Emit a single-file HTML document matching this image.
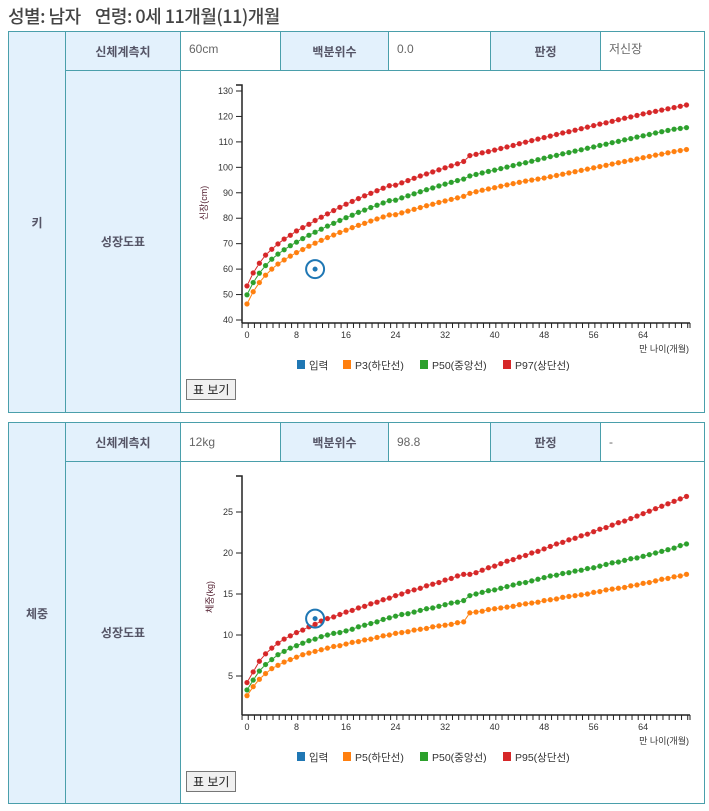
<!DOCTYPE html>
<html><head><meta charset="utf-8">
<style>
body{margin:0;width:709px;height:811px;background:#fff;font-family:"Liberation Sans","Noto Sans CJK KR",sans-serif;position:relative;overflow:hidden}
.t{position:absolute;font-size:18px;color:#444;left:8px;top:3px;letter-spacing:-0.5px;font-family:"Noto Sans CJK KR",sans-serif;font-weight:500}
.c{position:absolute;box-sizing:border-box;border:1px solid #4a9fab;font-size:12px;color:#555;display:flex;align-items:center}
.h{background:#e3f1fc;justify-content:center;font-weight:bold;color:#556}
.v{background:#fff;padding-left:8px;color:#666}
.btn{position:absolute;font-size:12px;border:1px solid #777;background:#f0f0f0;padding:1px 6px;font-family:"Liberation Sans","Noto Sans CJK KR",sans-serif;color:#222}
svg{position:absolute;left:0;top:0}
svg text{font-family:"Liberation Sans","Noto Sans CJK KR",sans-serif}
</style></head><body>
<div class="t">성별: 남자 &nbsp;&nbsp;&nbsp;연령: 0세 11개월(11)개월</div>

<div class="c h" style="left:8px;top:31px;width:58px;height:382px">키</div>
<div class="c h" style="left:65px;top:31px;width:116px;height:40px">신체계측치</div>
<div class="c v" style="left:180px;top:31px;width:101px;height:40px;align-items:flex-start;padding-top:10px">60cm</div>
<div class="c h" style="left:280px;top:31px;width:109px;height:40px">백분위수</div>
<div class="c v" style="left:388px;top:31px;width:103px;height:40px;align-items:flex-start;padding-top:10px">0.0</div>
<div class="c h" style="left:490px;top:31px;width:111px;height:40px">판정</div>
<div class="c v" style="left:600px;top:31px;width:105px;height:40px;align-items:flex-start;padding-top:8px">저신장</div>
<div class="c h" style="left:65px;top:70px;width:116px;height:343px">성장도표</div>
<div class="c" style="left:180px;top:70px;width:525px;height:343px"></div>

<div class="c h" style="left:8px;top:422px;width:58px;height:382px">체중</div>
<div class="c h" style="left:65px;top:422px;width:116px;height:40px">신체계측치</div>
<div class="c v" style="left:180px;top:422px;width:101px;height:40px">12kg</div>
<div class="c h" style="left:280px;top:422px;width:109px;height:40px">백분위수</div>
<div class="c v" style="left:388px;top:422px;width:103px;height:40px">98.8</div>
<div class="c h" style="left:490px;top:422px;width:111px;height:40px">판정</div>
<div class="c v" style="left:600px;top:422px;width:105px;height:40px">-</div>
<div class="c h" style="left:65px;top:461px;width:116px;height:343px">성장도표</div>
<div class="c" style="left:180px;top:461px;width:525px;height:343px"></div>

<button class="btn" style="left:186px;top:379px">표 보기</button>
<button class="btn" style="left:186px;top:771px">표 보기</button>

<svg id="svg" width="709" height="811"></svg>
<script>
const xTicks=[0,8,16,24,32,40,48,56,64];
const hTicks=[40,50,60,70,80,90,100,110,120,130];
const wTicks=[5,10,15,20,25];
const hP3=[46.3,51.1,54.7,57.6,60.0,62.0,63.6,65.1,66.5,67.7,69.0,70.2,71.3,72.4,73.4,74.4,75.3,76.3,77.2,78.0,78.9,79.7,80.5,81.3,81.4,82.1,82.8,83.5,84.2,84.9,85.5,86.2,86.8,87.4,88.0,88.6,89.8,90.4,91.0,91.5,92.0,92.6,93.1,93.6,94.1,94.6,95.0,95.4,95.8,96.3,96.8,97.3,97.8,98.3,98.8,99.3,99.8,100.3,100.8,101.3,101.8,102.3,102.8,103.3,103.8,104.3,104.8,105.2,105.7,106.2,106.6,107.0];
const hP50=[49.9,54.7,58.4,61.4,63.9,65.9,67.6,69.2,70.6,72.0,73.3,74.5,75.7,76.9,78.0,79.1,80.2,81.2,82.3,83.2,84.2,85.1,86.0,86.9,87.1,88.0,88.8,89.6,90.4,91.2,91.9,92.7,93.4,94.1,94.8,95.4,96.6,97.2,97.8,98.4,98.9,99.5,100.1,100.7,101.3,101.8,102.4,103.0,103.6,104.2,104.7,105.3,105.8,106.4,106.9,107.5,108.0,108.6,109.1,109.7,110.2,110.8,111.3,111.9,112.4,112.9,113.5,114.0,114.5,115.0,115.3,115.6];
const hP97=[53.4,58.5,62.3,65.5,67.8,69.9,71.8,73.3,75.0,76.3,77.6,79.1,80.4,81.7,83.0,84.3,85.5,86.6,87.7,88.8,89.8,90.8,91.8,92.8,93.0,93.9,94.8,95.7,96.6,97.4,98.2,99.0,99.8,100.6,101.4,102.3,104.6,105.1,105.7,106.2,106.8,107.4,108.0,108.6,109.3,109.9,110.5,111.1,111.7,112.3,112.9,113.5,114.0,114.6,115.2,115.8,116.4,117.0,117.5,118.1,118.7,119.3,119.8,120.4,121.0,121.5,122.0,122.5,123.0,123.5,124.0,124.5];
const wP5=[2.6,3.7,4.6,5.3,5.9,6.3,6.7,7.0,7.3,7.6,7.8,8.0,8.2,8.4,8.6,8.7,8.9,9.1,9.2,9.4,9.5,9.7,9.9,10.0,10.2,10.3,10.4,10.6,10.7,10.8,11.0,11.1,11.2,11.3,11.5,11.6,12.7,12.8,12.9,13.1,13.2,13.3,13.4,13.5,13.7,13.8,13.9,14.0,14.2,14.3,14.4,14.6,14.7,14.8,14.9,15.0,15.2,15.3,15.5,15.6,15.7,15.8,16.0,16.1,16.3,16.4,16.6,16.8,16.9,17.1,17.2,17.4];
const wP50=[3.3,4.5,5.6,6.4,7.0,7.6,8.0,8.4,8.7,9.0,9.3,9.5,9.8,10.0,10.2,10.3,10.5,10.7,11.0,11.2,11.4,11.6,11.9,12.1,12.3,12.5,12.6,12.8,13.0,13.2,13.3,13.5,13.7,13.9,14.0,14.2,14.8,15.0,15.2,15.4,15.5,15.7,15.9,16.1,16.3,16.4,16.6,16.8,17.0,17.2,17.3,17.5,17.6,17.8,17.9,18.1,18.2,18.4,18.6,18.8,18.9,19.1,19.3,19.4,19.6,19.8,20.0,20.2,20.4,20.6,20.9,21.1];
const wP95=[4.2,5.5,6.8,7.7,8.4,9.0,9.5,9.9,10.3,10.6,11.0,11.3,11.7,12.0,12.2,12.5,12.8,13.0,13.3,13.5,13.8,14.0,14.3,14.5,14.8,15.0,15.3,15.5,15.7,16.0,16.2,16.4,16.7,16.9,17.2,17.4,17.4,17.6,17.9,18.2,18.4,18.7,19.0,19.2,19.5,19.7,20.0,20.2,20.5,20.8,21.1,21.3,21.6,21.8,22.1,22.3,22.6,22.9,23.1,23.4,23.7,23.9,24.2,24.5,24.8,25.1,25.4,25.7,26.0,26.3,26.6,26.9];
const hInput=[11,60];
const wInput=[11,12];
const hLegend=["입력","P3(하단선)","P50(중앙선)","P97(상단선)"];
const wLegend=["입력","P5(하단선)","P50(중앙선)","P95(상단선)"];
const colors=["#1f77b4","#ff7f0e","#2ca02c","#d62728"];
const svg=document.getElementById('svg');
const NS='http://www.w3.org/2000/svg';
function mk(tag,attrs,parent){const e=document.createElementNS(NS,tag);for(const k in attrs)e.setAttribute(k,attrs[k]);(parent||svg).appendChild(e);return e;}
function chart(o){
  const g=mk('g',{});
  
  
  const x=m=>247+m*6.19;
  const y=v=>o.y0+(o.v0-v)*o.k;
  const ya=mk('path',{d:`M236,${o.top}H242V${o.bot}`,stroke:'#222',fill:'none','stroke-width':1.5},g);
  
  const xa=mk('path',{d:`M242,${o.bot}H690`,stroke:'#222',fill:'none','stroke-width':1.5},g);
  
  for(let m=-0.8;m<=71.5;m+=1){mk('line',{x1:x(m),x2:x(m),y1:o.bot,y2:o.bot+5,stroke:'#222','stroke-width':1},g);}
  mk('line',{x1:690,x2:690,y1:o.bot,y2:o.bot+5,stroke:'#222'},g);
  xTicks.forEach(t=>{const tx=mk('text',{x:x(t),y:o.bot+15,'font-size':9,'text-anchor':'middle',fill:'#333'},g);tx.textContent=t;
    });
  o.ticks.forEach(t=>{mk('line',{x1:236,x2:242,y1:y(t),y2:y(t),stroke:'#222'},g);
    const tx=mk('text',{x:233,y:y(t)+3,'font-size':9,'text-anchor':'end',fill:'#333'},g);tx.textContent=t;
    });
  const xt=mk('text',{x:689,y:o.bot+29,'font-size':9,'text-anchor':'end',fill:'#333'},g);xt.textContent='만 나이(개월)';
  
  const yt=mk('text',{transform:`translate(${o.ytx},${o.yty}) rotate(-90)`,'font-size':9,'text-anchor':'middle',fill:'#523'},g);yt.textContent=o.ytitle;
  
  o.series.forEach((s,i)=>{
    const c=colors[i+1];
    const p=mk('path',{d:s.map((v,m)=>(m?'L':'M')+x(m)+','+y(v)).join(''),stroke:c,'stroke-width':1,fill:'none'},g);
    
    s.forEach((v,m)=>{const d=mk('circle',{cx:x(m),cy:y(v),r:2.7,fill:c,stroke:'#fff','stroke-opacity':0.4,'stroke-width':0.5},g);
      });
  });
  const ic=mk('circle',{cx:x(o.input[0]),cy:y(o.input[1]),r:9,fill:'none',stroke:colors[0],'stroke-width':2},g);
  
  const id=mk('circle',{cx:x(o.input[0]),cy:y(o.input[1]),r:2.5,fill:colors[0]},g);
  
  let lx=297;const lw=[46,77,83,0];
  o.legend.forEach((l,i)=>{
    const lg=mk('g',{},g);
    
    mk('rect',{x:lx,y:o.ly-5,width:8,height:9,fill:colors[i]},lg);
    const t=mk('text',{x:lx+12,y:o.ly+4,'font-size':10.5,fill:'#333'},lg);t.textContent=l;
    lx+=lw[i];
  });
}
chart({name:'height-chart',y0:91,v0:130,k:229/90,top:85,bot:323,ticks:hTicks,series:[hP3,hP50,hP97],input:hInput,legend:hLegend,ly:365,ytitle:'신장(cm)',ytx:207,yty:203});
chart({name:'weight-chart',y0:512,v0:25,k:8.2,top:476,bot:715,ticks:wTicks,series:[wP5,wP50,wP95],input:wInput,legend:wLegend,ly:757,ytitle:'체중(kg)',ytx:213,yty:597});
</script>
</body></html>
